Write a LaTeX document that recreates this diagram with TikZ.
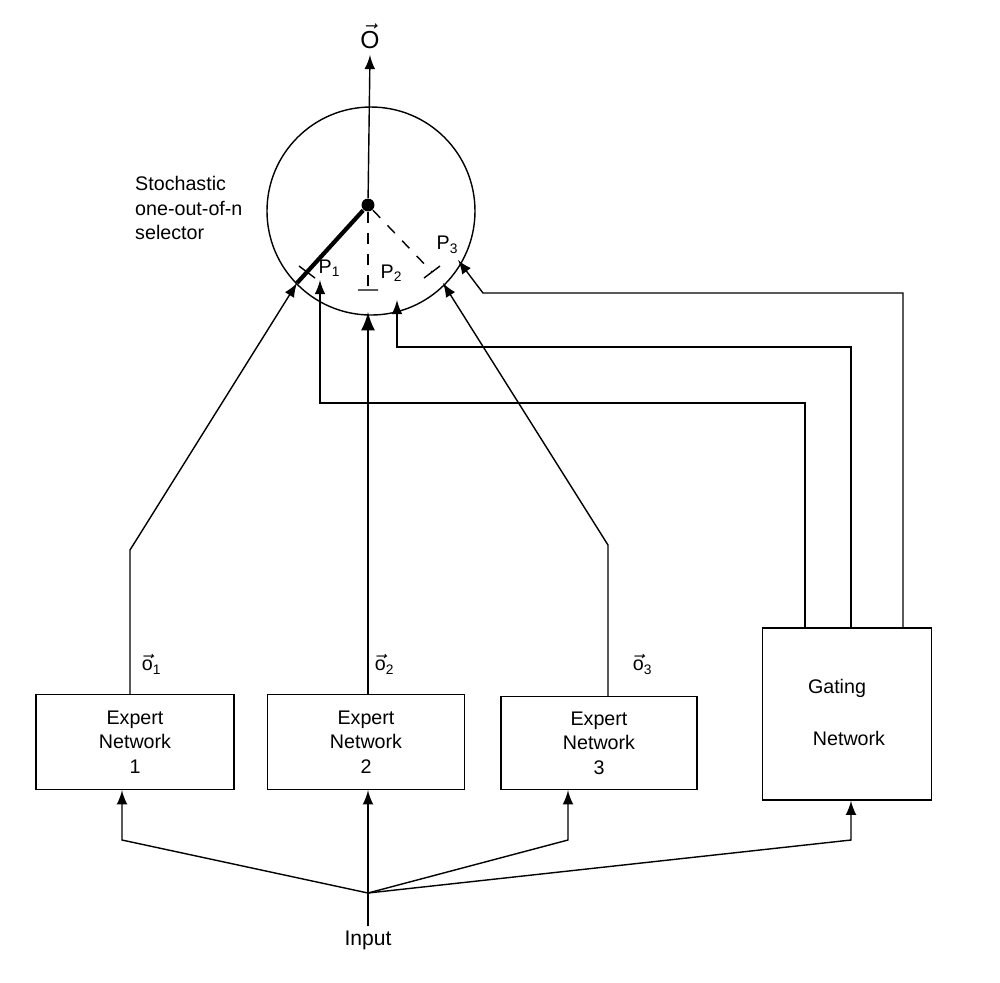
\documentclass[tikz,border=0pt]{standalone}
\usepackage{fontspec}
\setmainfont{Liberation Sans}
\usetikzlibrary{arrows,calc,positioning}
\tikzset{
  box/.style={draw,rectangle,align=center,inner sep=0pt},
  sig/.style={-latex,thin},
  lbl/.style={font=\fontsize{5.6}{7}\selectfont,align=center,inner sep=1pt}
}
\begin{document}
\begin{tikzpicture}[x=0.1mm,y=-0.1mm]
  \useasboundingbox (0,0) rectangle (1000,982);
  % selector
  \draw (371,211) circle (104);
  \node (pivot) [circle,fill,inner sep=1.3pt] at (368,205) {};
  \node (out) [lbl,font=\fontsize{7}{8}\selectfont] at (370,36) {$\vec{\mathrm{O}}$};
  \draw[sig] (pivot) -- (370,55);
  \draw[line width=1.2pt] (pivot) -- (297,283);
  \draw[dashed] (pivot) -- (368,290);
  \draw[dashed] (pivot) -- (432,272);
  \draw (299,266) -- (315,278) (358,290) -- (378,290) (424,278) -- (440,266);
  \node[lbl,anchor=west,align=left] at (131,208) {Stochastic\\one-out-of-n\\selector};
  \node[lbl] at (330,268) {P\textsubscript{1}};
  \node[lbl] at (392,273) {P\textsubscript{2}};
  \node[lbl] at (448,245) {P\textsubscript{3}};
  % experts
  \node (e1) [box,minimum width=19.8mm,minimum height=9.5mm] at (135,742) {};
  \node[lbl] at (e1) {Expert\\Network\\1};
  \node (e2) [box,minimum width=19.7mm,minimum height=9.5mm] at (366,742) {};
  \node[lbl] at (e2) {Expert\\Network\\2};
  \node (e3) [box,minimum width=19.6mm,minimum height=9.3mm] at (599,743) {};
  \node[lbl] at (e3) {Expert\\Network\\3};
  \node (gate) [box,minimum width=16.9mm,minimum height=17.2mm] at (847,714) {};
  \node[lbl] at (837,688) {Gating};
  \node[lbl] at (849,738) {Network};
  % expert outputs
  \draw[sig] (e1.north -| 130,0) -- (130,550) -- (297,283);
  \draw[sig,line width=0.8pt] (e2.north -| 368,0) -- (368,312);
  \draw[sig] (e3.north -| 608,0) -- (608,545) -- (443,283);
  \node[lbl] at (152,664) {$\vec{\mathrm{o}}$\textsubscript{1}};
  \node[lbl] at (385,664) {$\vec{\mathrm{o}}$\textsubscript{2}};
  \node[lbl] at (643,664) {$\vec{\mathrm{o}}$\textsubscript{3}};
  % gating outputs
  \draw[sig] (gate.north -| 805,0) -- (805,403) -- (320,403) -- (320,280);
  \draw[sig] (gate.north -| 851,0) -- (851,347) -- (397,347) -- (397,300);
  \draw[sig] (gate.north -| 903,0) -- (903,293) -- (483,293) -- (458,260);
  % input
  \coordinate (in) at (368,893);
  \node (inp) [lbl,font=\fontsize{6}{7}\selectfont] at (368,940) {Input};
  \draw (inp.north) -- (in);
  \draw[sig] (in) -- (122,840) -- (e1.south -| 122,0);
  \draw[sig] (in) -- (e2.south -| 368,0);
  \draw[sig] (in) -- (568,840) -- (e3.south -| 568,0);
  \draw[sig] (in) -- (851,840) -- (gate.south -| 851,0);
\end{tikzpicture}
\end{document}
